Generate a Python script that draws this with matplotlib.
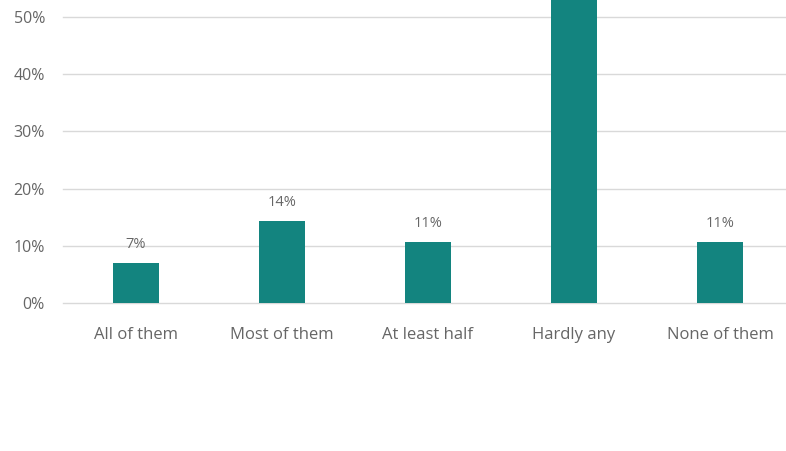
import matplotlib
matplotlib.use("Agg")
import matplotlib.pyplot as plt

categories = ["All of them", "Most of them", "At least half", "Hardly any", "None of them"]
values = [7, 14.3, 10.7, 57, 10.7]
labels = ["7%", "14%", "11%", "57%", "11%"]
yticks = [0, 10, 20, 30, 40, 50]

plt.rcParams['font.family'] = ['Open Sans', 'DejaVu Sans']

fig = plt.figure(figsize=(7.86, 4.51), dpi=100)
ax = fig.add_axes([63/786, (451-303)/451, 1 - 63/786, 303/451])

x = list(range(len(categories)))
ax.bar(x, values, width=0.315, color="#13847f", zorder=3)
for xi, v, lab in zip(x, values, labels):
    ax.annotate(lab, (xi, v), xytext=(0, 8), textcoords="offset points",
                ha="center", va="bottom", fontsize=10.5, color="#666666",
                annotation_clip=True)

ax.set_xlim(-0.5, -0.5 + 723/146)
ax.set_ylim(0, 303/5.72)
ax.set_yticks(yticks)
ax.set_yticklabels([f"{t}%" for t in yticks])
ax.set_xticks(x)
ax.set_xticklabels(categories)
ax.grid(axis="y", color="#d9d9d9", linewidth=1, zorder=0)
for gl in ax.get_ygridlines():
    gl.set_clip_on(False)
ax.tick_params(axis="both", length=0, colors="#666666")
ax.tick_params(axis="y", labelsize=11.5, pad=13)
ax.tick_params(axis="x", labelsize=12, pad=17)
for s in ax.spines.values():
    s.set_visible(False)

fig.savefig("out.png", dpi=100)
